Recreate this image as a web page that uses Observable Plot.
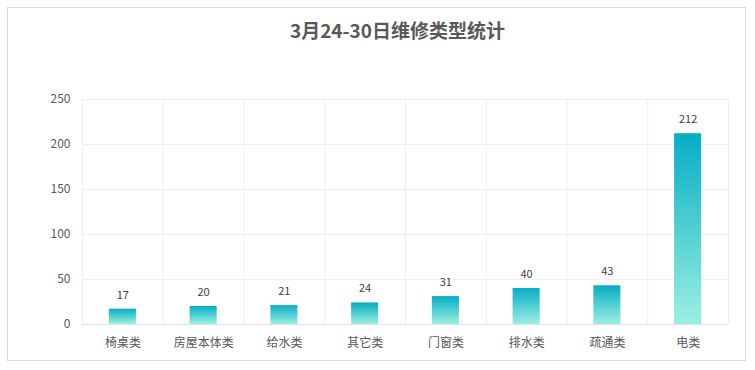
<!DOCTYPE html>
<html><head><meta charset="utf-8">
<script src="https://cdn.jsdelivr.net/npm/d3@7"></script>
<script src="https://cdn.jsdelivr.net/npm/@observablehq/plot@0.6"></script>
<style>
body{margin:0;background:#fff;font-family:"Noto Sans CJK SC","Noto Sans",sans-serif;}
#wrap{position:relative;width:755px;height:370px;}
#border{position:absolute;left:7px;top:7px;width:739px;height:354px;border:1px solid #d9d9d9;box-sizing:border-box;}
#title{position:absolute;left:20px;width:755px;top:16px;text-align:center;font-size:19px;font-weight:bold;color:#595959;}
#chart{position:absolute;left:0;top:0;}
</style></head>
<body><div id="wrap"><div id="border"></div><div id="chart"></div><div id="title">3月24-30日维修类型统计</div></div>
<script>
const categories = ["椅桌类","房屋本体类","给水类","其它类","门窗类","排水类","疏通类","电类"];
const counts = [17,20,21,24,31,40,43,212];
const yTicks = [0,50,100,150,200,250];

const data = categories.map((c,i)=>({cat:c,val:counts[i]}));
const W=755,H=370,mL=82,mR=27,mT=99,mB=46;
const step=(W-mL-mR)/categories.length;

const defs = () => {
  const d = d3.create("svg:defs");
  const g = d.append("linearGradient").attr("id","barGrad").attr("x1",0).attr("y1",0).attr("x2",0).attr("y2",1);
  g.append("stop").attr("offset","0%").attr("stop-color","#05aec5");
  g.append("stop").attr("offset","100%").attr("stop-color","#9cefe1");
  return d.node();
};

const chart = Plot.plot({
  width:W,height:H,marginLeft:mL,marginRight:mR,marginTop:mT,marginBottom:mB,
  style:{fontFamily:'"Noto Sans CJK SC","Noto Sans",sans-serif',fontSize:"12px",color:"#595959",background:"transparent"},
  x:{domain:categories,paddingInner:0.665,paddingOuter:0.3325,round:false,label:null},
  y:{domain:[0,250],label:null},
  marks:[
    defs,
    Plot.ruleY(yTicks,{stroke:"#efefef"}),
    Plot.ruleX(categories,{x:d=>d,dx:-step/2,stroke:"#efefef"}),
    Plot.ruleX(categories.slice(-1),{x:d=>d,dx:step/2,stroke:"#efefef"}),
    Plot.ruleY([0],{stroke:"#e3e3e3"}),
    Plot.barY(data,{x:"cat",y:"val",fill:"url(#barGrad)"}),
    Plot.text(data,{x:"cat",y:"val",text:d=>String(d.val),dy:-14,fill:"#404040",fontSize:11}),
    Plot.axisY({ticks:yTicks,tickSize:0,tickPadding:12,fontSize:12,fill:"#595959"}),
    Plot.axisX({tickSize:0,tickPadding:14,fontSize:12,fill:"#595959"})
  ]
});
document.getElementById("chart").append(chart);
</script></body></html>
